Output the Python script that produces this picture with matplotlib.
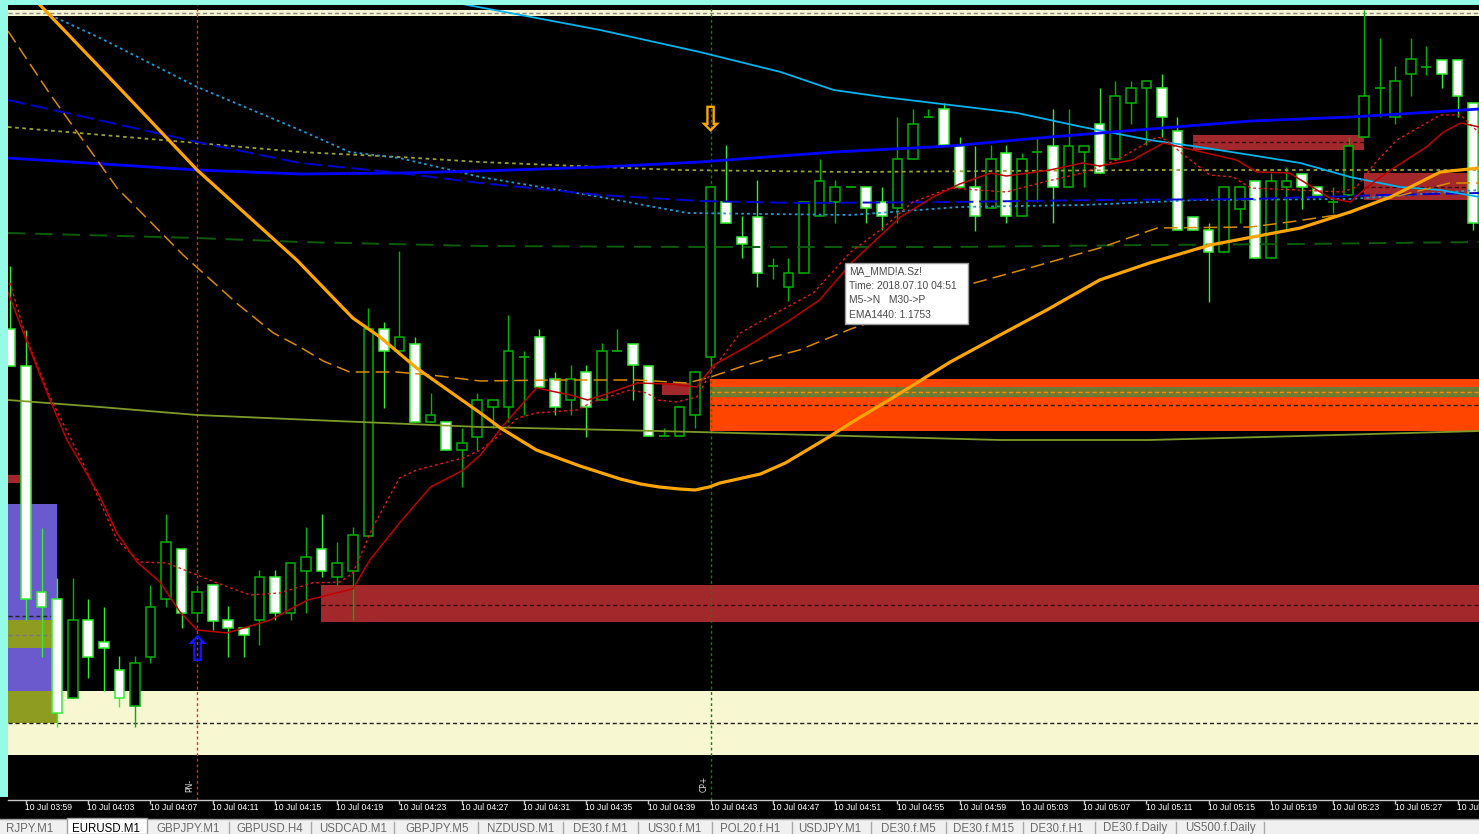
import matplotlib
matplotlib.use('Agg')
import matplotlib.pyplot as plt
from matplotlib.patches import Rectangle
import matplotlib.transforms as mtransforms
from matplotlib import font_manager

# ---------------- data ----------------
candle_idx = list(range(-1, 94))   # minute index, 0 = 10 Jul 03:59
opens = [1.17671, 1.17634, 1.17408, 1.17401, 1.17302, 1.17380, 1.17358, 1.17330, 1.17294, 1.17343,
         1.17401, 1.17451, 1.17387, 1.17415, 1.17380, 1.17372, 1.17380, 1.17423, 1.17387, 1.17429,
         1.17451, 1.17423, 1.17429, 1.17464, 1.17671, 1.17649, 1.17656, 1.17578, 1.17578, 1.17550,
         1.17563, 1.17593, 1.17593, 1.17643, 1.17663, 1.17621, 1.17600, 1.17628, 1.17600, 1.17649,
         1.17656, 1.17634, 1.17564, 1.17564, 1.17585, 1.17643, 1.17798, 1.17763, 1.17783, 1.17734,
         1.17713, 1.17727, 1.17784, 1.17798, 1.17813, 1.17813, 1.17798, 1.17792, 1.17841, 1.17883,
         1.17891, 1.17854, 1.17813, 1.17792, 1.17847, 1.17784, 1.17848, 1.17854, 1.17813, 1.17848,
         1.17876, 1.17841, 1.17897, 1.17912, 1.17912, 1.17869, 1.17783, 1.17770, 1.17748, 1.17791,
         1.17819, 1.17742, 1.17813, 1.17826, 1.17813, 1.17798, 1.17805, 1.17863, 1.17912, 1.17883,
         1.17926, 1.17933, 1.17940, 1.17940, 1.17897]
highs = [1.17734, 1.17670, 1.17472, 1.17422, 1.17422, 1.17401, 1.17393, 1.17344, 1.17344, 1.17415,
         1.17486, 1.17451, 1.17415, 1.17415, 1.17394, 1.17372, 1.17430, 1.17430, 1.17437, 1.17473,
         1.17486, 1.17458, 1.17473, 1.17692, 1.17678, 1.17749, 1.17663, 1.17607, 1.17578, 1.17572,
         1.17607, 1.17600, 1.17685, 1.17649, 1.17671, 1.17628, 1.17635, 1.17635, 1.17657, 1.17671,
         1.17656, 1.17634, 1.17572, 1.17593, 1.17628, 1.17813, 1.17855, 1.17784, 1.17820, 1.17742,
         1.17742, 1.17798, 1.17841, 1.17820, 1.17813, 1.17813, 1.17813, 1.17883, 1.17891, 1.17891,
         1.17897, 1.17863, 1.17854, 1.17855, 1.17855, 1.17847, 1.17863, 1.17891, 1.17891, 1.17854,
         1.17912, 1.17919, 1.17919, 1.17919, 1.17926, 1.17883, 1.17783, 1.17777, 1.17813, 1.17813,
         1.17819, 1.17827, 1.17833, 1.17826, 1.17813, 1.17813, 1.17863, 1.17990, 1.17962, 1.17934,
         1.17962, 1.17954, 1.17940, 1.17940, 1.17897]
lows = [1.17634, 1.17380, 1.17343, 1.17273, 1.17302, 1.17322, 1.17309, 1.17293, 1.17273, 1.17337,
        1.17393, 1.17372, 1.17379, 1.17370, 1.17343, 1.17343, 1.17355, 1.17380, 1.17380, 1.17387,
        1.17423, 1.17415, 1.17380, 1.17464, 1.17592, 1.17649, 1.17578, 1.17578, 1.17550, 1.17513,
        1.17550, 1.17572, 1.17578, 1.17585, 1.17613, 1.17585, 1.17585, 1.17563, 1.17600, 1.17649,
        1.17600, 1.17564, 1.17564, 1.17564, 1.17572, 1.17633, 1.17777, 1.17742, 1.17713, 1.17721,
        1.17699, 1.17727, 1.17784, 1.17777, 1.17813, 1.17777, 1.17770, 1.17777, 1.17841, 1.17883,
        1.17855, 1.17813, 1.17769, 1.17792, 1.17777, 1.17784, 1.17798, 1.17777, 1.17813, 1.17813,
        1.17827, 1.17841, 1.17876, 1.17855, 1.17863, 1.17770, 1.17770, 1.17698, 1.17748, 1.17777,
        1.17742, 1.17742, 1.17770, 1.17791, 1.17805, 1.17787, 1.17805, 1.17863, 1.17883, 1.17876,
        1.17904, 1.17925, 1.17912, 1.17883, 1.17770]
closes = [1.17634, 1.17401, 1.17393, 1.17287, 1.17380, 1.17343, 1.17352, 1.17302, 1.17337, 1.17393,
          1.17458, 1.17387, 1.17408, 1.17379, 1.17372, 1.17365, 1.17423, 1.17387, 1.17437, 1.17443,
          1.17429, 1.17437, 1.17465, 1.17671, 1.17649, 1.17663, 1.17578, 1.17585, 1.17550, 1.17557,
          1.17600, 1.17600, 1.17649, 1.17643, 1.17613, 1.17593, 1.17621, 1.17593, 1.17649, 1.17649,
          1.17635, 1.17564, 1.17564, 1.17593, 1.17628, 1.17813, 1.17777, 1.17756, 1.17727, 1.17734,
          1.17727, 1.17798, 1.17819, 1.17813, 1.17813, 1.17792, 1.17784, 1.17841, 1.17876, 1.17883,
          1.17855, 1.17813, 1.17784, 1.17841, 1.17784, 1.17841, 1.17848, 1.17813, 1.17854, 1.17854,
          1.17827, 1.17904, 1.17912, 1.17919, 1.17883, 1.17770, 1.17770, 1.17748, 1.17813, 1.17813,
          1.17742, 1.17819, 1.17819, 1.17813, 1.17805, 1.17798, 1.17854, 1.17904, 1.17912, 1.17919,
          1.17941, 1.17933, 1.17926, 1.17904, 1.17777]

tick_idx = list(range(0, 93, 4))
tick_labels = ["10 Jul 03:59", "10 Jul 04:03", "10 Jul 04:07", "10 Jul 04:11", "10 Jul 04:15",
               "10 Jul 04:19", "10 Jul 04:23", "10 Jul 04:27", "10 Jul 04:31", "10 Jul 04:35",
               "10 Jul 04:39", "10 Jul 04:43", "10 Jul 04:47", "10 Jul 04:51", "10 Jul 04:55",
               "10 Jul 04:59", "10 Jul 05:03", "10 Jul 05:07", "10 Jul 05:11", "10 Jul 05:15",
               "10 Jul 05:19", "10 Jul 05:23", "10 Jul 05:27", "10 Jul 05:31"]

# moving averages (index, price)
ema_slow_x = [0.9, 6.0, 11.0, 17.4, 21.0, 22.75, 25.1, 27.1, 29.2, 30.5, 32.8, 35.6, 38.2, 39.5, 40.7,
              42.0, 43.0, 43.9, 44.6, 47.2, 48.8, 50.2, 51.6, 53.0, 56.2, 59.4, 62.6, 65.6, 69.0, 72.2,
              76.1, 81.9, 85.1, 87.7, 90.9, 93.4]
ema_slow_y = [1.17995, 1.17912, 1.17830, 1.17740, 1.17682, 1.17663, 1.17632, 1.17610, 1.17587, 1.17572,
              1.17550, 1.17534, 1.17521, 1.17516, 1.17513, 1.17511, 1.17510, 1.17513, 1.17517, 1.17526,
              1.17537, 1.17550, 1.17563, 1.17577, 1.17607, 1.17638, 1.17665, 1.17690, 1.17720, 1.17737,
              1.17755, 1.17772, 1.17788, 1.17803, 1.17828, 1.17832]
ma_orange_x = [-1.16, 1.54, 5.85, 10.1, 13.6, 15.9, 17.6, 19.1, 20.8, 23.8, 26.0, 29.2, 33.9, 39.3, 42.5,
               44.0, 45.9, 48.0, 49.7, 53.0, 56.2, 60.7, 64.7, 69.0, 72.7, 78.7, 81.2, 85.1, 87.2, 91.5, 93.4]
ma_orange_y = [1.17969, 1.17906, 1.17812, 1.17745, 1.17696, 1.17667, 1.17653, 1.17639, 1.17628, 1.17628,
               1.17625, 1.17619, 1.17620, 1.17620, 1.17617, 1.17623, 1.17633, 1.17643, 1.17650, 1.17671,
               1.17688, 1.17716, 1.17733, 1.17752, 1.17772, 1.17773, 1.17778, 1.17787, 1.17800, 1.17817, 1.17817]
ma_cyan_x = [26.0, 36.9, 43.3, 48.5, 51.9, 55.1, 59.4, 63.7, 67.9, 72.2, 75.4, 78.7, 81.9, 85.1, 88.3, 90.9, 93.4]
ma_cyan_y = [1.18002, 1.17970, 1.17948, 1.17928, 1.17910, 1.17903, 1.17895, 1.17887, 1.17873, 1.17860,
             1.17853, 1.17845, 1.17837, 1.17823, 1.17813, 1.17810, 1.17803]
ma_blue_x = [-1.16, 11.0, 17.6, 24.0, 29.2, 36.9, 43.3, 51.9, 59.4, 65.8, 72.2, 78.7, 85.1, 88.3, 93.4]
ma_blue_y = [1.17842, 1.17830, 1.17826, 1.17827, 1.17829, 1.17833, 1.17838, 1.17848, 1.17854, 1.17863,
             1.17871, 1.17879, 1.17883, 1.17886, 1.17891]
ma_navy_x = [-1.16, 11.0, 17.6, 24.0, 29.2, 36.9, 43.3, 49.7, 59.4, 69.0, 78.7, 87.2, 93.4]
ma_navy_y = [1.17900, 1.17858, 1.17837, 1.17827, 1.17817, 1.17805, 1.17799, 1.17797, 1.17798, 1.17800,
             1.17801, 1.17805, 1.17807]
ma_skydot_x = [1.54, 4.76, 11.0, 17.6, 20.8, 24.0, 29.2, 36.9, 42.5, 53.0, 60.0, 67.9, 75.4, 85.1, 93.4]
ma_skydot_y = [1.17985, 1.17962, 1.17913, 1.17870, 1.17848, 1.17842, 1.17823, 1.17803, 1.17787, 1.17785,
               1.17793, 1.17795, 1.17800, 1.17801, 1.17810]
ma_olive_x = [-1.16, 11.0, 17.6, 24.0, 29.2, 36.9, 42.0, 53.0, 72.2, 93.4]
ma_olive_y = [1.17873, 1.17857, 1.17848, 1.17843, 1.17838, 1.17833, 1.17830, 1.17828, 1.17830, 1.17830]
ma_green_x = [-1.16, 11.0, 17.6, 29.2, 43.3, 59.4, 72.2, 81.9, 93.4]
ma_green_y = [1.17767, 1.17762, 1.17758, 1.17754, 1.17753, 1.17753, 1.17755, 1.17756, 1.17758]
ma_lime_x = [-1.16, 4.76, 11.0, 18.4, 29.2, 40.6, 50.6, 62.6, 72.2, 81.9, 93.4]
ma_lime_y = [1.17600, 1.17593, 1.17585, 1.17580, 1.17573, 1.17569, 1.17565, 1.17560, 1.17560, 1.17564, 1.17569]
ma_red_x = [-1.16, -0.06, 1.54, 2.63, 3.66, 4.76, 5.85, 7.13, 8.61, 9.90, 11.0, 12.9, 15.7, 18.1, 21.0,
            22.1, 24.0, 26.0, 28.1, 29.2, 30.7, 32.8, 35.0, 36.1, 37.1, 39.3, 41.4, 43.1, 44.2, 46.5,
            48.9, 51.0, 53.1, 56.2, 58.3, 60.0, 62.0, 63.0, 65.8, 67.9, 69.0, 71.1, 73.1, 75.0, 77.8,
            79.1, 81.2, 83.8, 85.1, 86.2, 87.7, 90.0, 91.1, 92.2, 93.4]
ma_red_y = [1.17708, 1.17663, 1.17600, 1.17560, 1.17533, 1.17503, 1.17467, 1.17438, 1.17418, 1.17388,
            1.17370, 1.17367, 1.17380, 1.17400, 1.17411, 1.17440, 1.17477, 1.17513, 1.17530, 1.17545,
            1.17575, 1.17612, 1.17605, 1.17600, 1.17605, 1.17617, 1.17616, 1.17613, 1.17635, 1.17655,
            1.17678, 1.17700, 1.17738, 1.17783, 1.17803, 1.17816, 1.17827, 1.17824, 1.17830, 1.17837,
            1.17834, 1.17840, 1.17857, 1.17850, 1.17840, 1.17828, 1.17827, 1.17802, 1.17798, 1.17813,
            1.17830, 1.17853, 1.17868, 1.17877, 1.17873]
ma_reddot_x = [-1.03, 0.06, 1.54, 3.66, 5.85, 7.33, 9.06, 10.5, 12.3, 14.4, 16.3, 18.4, 20.2, 21.0, 22.3,
               24.0, 25.1, 28.1, 29.2, 30.3, 31.6, 32.8, 35.4, 36.4, 38.8, 39.9, 40.6, 41.8, 43.1, 44.2,
               45.9, 47.6, 50.6, 53.0, 54.9, 57.0, 59.4, 63.0, 65.4, 67.9, 70.1, 72.7, 73.3, 74.4, 76.1,
               77.6, 78.7, 84.6, 85.5, 86.6, 88.1, 90.9, 92.2, 93.4]
ma_reddot_y = [1.17717, 1.17660, 1.17603, 1.17537, 1.17460, 1.17438, 1.17437, 1.17428, 1.17417, 1.17405,
               1.17407, 1.17417, 1.17418, 1.17427, 1.17473, 1.17522, 1.17530, 1.17542, 1.17550, 1.17563,
               1.17582, 1.17587, 1.17590, 1.17598, 1.17610, 1.17607, 1.17600, 1.17598, 1.17603, 1.17632,
               1.17667, 1.17682, 1.17707, 1.17748, 1.17770, 1.17798, 1.17812, 1.17808, 1.17818, 1.17827,
               1.17840, 1.17863, 1.17860, 1.17845, 1.17825, 1.17823, 1.17812, 1.17808, 1.17813, 1.17835,
               1.17860, 1.17885, 1.17885, 1.17867]

# zones: x from/to (index), price low/high, fill colour
zone_x0 = [-1.16, -1.16, -1.16, -1.16, -1.16, -1.16, 1.99, -1.16, 18.96, 40.9, 43.96, 43.96, 75.0, 86.0]
zone_x1 = [93.4, 1.99, 1.99, 1.99, 1.99, -0.4, 93.4, 93.4, 93.4, 43.3, 93.4, 93.4, 86.0, 93.4]
zone_lo = [1.17984, 1.17380, 1.17352, 1.17309, 1.17277, 1.17517, 1.17245, 1.17245, 1.17378, 1.17605,
           1.17569, 1.17603, 1.17850, 1.17800]
zone_hi = [1.17990, 1.17496, 1.17380, 1.17352, 1.17309, 1.17525, 1.17309, 1.17277, 1.17415, 1.17617,
           1.17621, 1.17613, 1.17865, 1.17827]
zone_col = ['#F5F5D2', '#6A5ACD', '#8E9C22', '#6A5ACD', '#8E9C22', '#A0282A', '#F7F7D2', '#F7F7D2',
            '#A3282B', '#A0282A', '#FF4500', '#6E7A30', '#A3282B', '#A3282B']
# dashed level lines inside zones
level_x0 = [-1.16, -1.16, -1.16, -1.16, 18.96, 43.96, 43.96, 75.0, 86.0]
level_x1 = [93.4, 1.99, 1.99, 93.4, 93.4, 93.4, 93.4, 86.0, 93.4]
level_y = [1.17987, 1.17384, 1.17365, 1.17277, 1.17395, 1.17608, 1.17595, 1.17858, 1.17813]
level_col = ['#888888', '#222222', '#777777', '#222222', '#3A0A0A', '#FF8C00', '#222222', '#3A0A0A', '#3A0A0A']

vline_idx = [11, 44]
tab_names = ["RJPY.M1", "EURUSD.M1", "GBPJPY.M1", "GBPUSD.H4", "USDCAD.M1", "GBPJPY.M5", "NZDUSD.M1",
             "DE30.f.M1", "US30.f.M1", "POL20.f.H1", "USDJPY.M1", "DE30.f.M5", "DE30.f.M15", "DE30.f.H1",
             "DE30.f.Daily", "US500.f.Daily"]
tooltip_lines = ["MA_MMD!A.Sz!", "Time: 2018.07.10 04:51", "M5->N   M30->P", "EMA1440: 1.1753"]

# ---------------- figure ----------------
W, H = 1479, 834
fig = plt.figure(figsize=(W / 100, H / 100), dpi=100, facecolor='black')


def fx(x):
    return x / W


def fy(y):
    return 1 - y / H


names = {f.name for f in font_manager.fontManager.ttflist}
if 'Liberation Sans Narrow' in names:
    axis_font, axis_fs = 'Liberation Sans Narrow', 7.2
else:
    axis_font, axis_fs = 'Liberation Sans', 6.2

ax = fig.add_axes([fx(8), fy(800), fx(1479) - fx(8), fy(5) - fy(800)])
ax.set_facecolor('black')
ax.set_xlim(-1.157, 93.38)
ax.set_ylim(1.17200, 1.17995)

# zones
for x0, x1, lo, hi, c in zip(zone_x0, zone_x1, zone_lo, zone_hi, zone_col):
    ax.add_patch(Rectangle((x0, lo), x1 - x0, hi - lo, facecolor=c, edgecolor='none', zorder=1))
for x0, x1, y, c in zip(level_x0, level_x1, level_y, level_col):
    ax.plot([x0, x1], [y, y], color=c, lw=1, ls=(0, (3, 2)), zorder=1.5)

# vertical lines
ax.axvline(vline_idx[0], color='#D83030', lw=1, ls=(0, (2, 2)), zorder=2)
ax.axvline(vline_idx[1], color='#108010', lw=1, ls=(0, (2, 2)), zorder=2)

# candles
for i, o, h, l, c in zip(candle_idx, opens, highs, lows, closes):
    bull = c >= o
    ec = '#00B400' if bull else '#33EE33'
    ax.vlines(i, l, h, color=ec, lw=1, zorder=3)
    if abs(c - o) < 1e-9:
        ax.hlines(o, i - 0.32, i + 0.32, color=ec, lw=1.2, zorder=4)
    else:
        ax.add_patch(Rectangle((i - 0.31, min(o, c)), 0.62, abs(c - o),
                               facecolor='black' if bull else 'white', edgecolor=ec, lw=1.1, zorder=4))

# moving averages
ax.plot(ma_lime_x, ma_lime_y, color='#7E9A28', lw=1.3, zorder=5)
ax.plot(ma_green_x, ma_green_y, color='#0C5C0C', lw=1.4, ls=(0, (9, 5)), zorder=5)
ax.plot(ma_olive_x, ma_olive_y, color='#98A233', lw=1.3, ls=(0, (2, 2)), zorder=5)
ax.plot(ma_skydot_x, ma_skydot_y, color='#1E9AD8', lw=1.3, ls=(0, (1.5, 1.8)), zorder=5)
ax.plot(ma_navy_x, ma_navy_y, color='#0000D0', lw=1.4, ls=(0, (9, 3)), zorder=5)
ax.plot(ma_cyan_x, ma_cyan_y, color='#00B4F0', lw=1.3, zorder=5)
ax.plot(ma_blue_x, ma_blue_y, color='#0000FF', lw=2.0, zorder=5)
ax.plot(ma_orange_x, ma_orange_y, color='#D98A00', lw=1.1, ls=(0, (9, 4)), zorder=5)
ax.plot(ma_reddot_x, ma_reddot_y, color='#E81818', lw=1.0, ls=(0, (2, 2)), zorder=6)
ax.plot(ma_red_x, ma_red_y, color='#C00000', lw=1.1, zorder=6)
ax.plot(ema_slow_x, ema_slow_y, color='#FFA500', lw=2.3, zorder=6, solid_joinstyle='round')

# arrows
ax.text(vline_idx[0], 1.17349, '\u21e7', color='#1414FF', fontsize=25, fontweight='bold',
        ha='center', va='center', zorder=7)
ax.text(vline_idx[1], 1.17879, '\u21e9', color='#FFA500', fontsize=25, fontweight='bold',
        ha='center', va='center', zorder=7)
ax.text(vline_idx[0] - 0.45, 1.17208, 'PN-', rotation=90, fontsize=5.5, color='#E0E0E0',
        ha='center', va='bottom', zorder=7)
ax.text(vline_idx[1] - 0.45, 1.17208, 'CP+', rotation=90, fontsize=5.5, color='#E0E0E0',
        ha='center', va='bottom', zorder=7)

# axis
for s in ['top', 'left', 'right']:
    ax.spines[s].set_visible(False)
ax.spines['bottom'].set_color('#C8C8C8')
ax.spines['bottom'].set_linewidth(1)
ax.set_yticks([])
ax.set_xticks(tick_idx)
ax.set_xticklabels([''] * len(tick_idx))
ax.tick_params(axis='x', direction='out', length=3, color='#C8C8C8', width=1)
trans = mtransforms.blended_transform_factory(ax.transData, ax.transAxes)
for t, lbl in zip(tick_idx, tick_labels):
    ax.text(t - 0.05, -0.0095, lbl, transform=trans, ha='left', va='center', color='white',
            fontsize=axis_fs, family=axis_font, clip_on=False)

# cyan frame strips
fig.patches.append(Rectangle((0, fy(797)), fx(8), fy(0) - fy(797), transform=fig.transFigure,
                             facecolor='#94FBE6', edgecolor='none', zorder=2))
fig.patches.append(Rectangle((0, fy(5)), 1, fy(0) - fy(5), transform=fig.transFigure,
                             facecolor='#94FBE6', edgecolor='none', zorder=2))

# tooltip
fig.patches.append(Rectangle((fx(845), fy(324)), fx(968) - fx(845), fy(263) - fy(324),
                             transform=fig.transFigure, facecolor='white', edgecolor='#9A9A9A',
                             lw=1, zorder=10))
for k, line in enumerate(tooltip_lines):
    fig.text(fx(849), fy(271 + k * 14.7), line, color='#4A4A4A', fontsize=7.4, family='Liberation Sans',
             ha='left', va='center', zorder=11)

# tab bar
fig.patches.append(Rectangle((0, 0), 1, fy(819), transform=fig.transFigure,
                             facecolor='#F0F0F0', edgecolor='none', zorder=2))
fig.lines.append(plt.Line2D([0, 1], [fy(819), fy(819)], transform=fig.transFigure, color='#A0A0A0', lw=1, zorder=3))
fig.patches.append(Rectangle((fx(67), 0), fx(147) - fx(67), fy(818), transform=fig.transFigure,
                             facecolor='white', edgecolor='#A0A0A0', lw=1, zorder=3))
tab_centers = [30, 106, 188, 270, 353, 437, 521, 600, 674, 750, 830, 908, 984, 1057, 1135, 1220]
tab_seps = [229, 311, 394, 478, 563, 638, 712, 792, 871, 946, 1023, 1095, 1176, 1264]
for xc, name in zip(tab_centers, tab_names):
    active = name == "EURUSD.M1"
    fig.text(fx(xc), fy(828.5), name, color='#000000' if active else '#6A6A6A', fontsize=8.3,
             family='Liberation Sans', ha='center', va='center', zorder=4)
for xs in tab_seps:
    fig.lines.append(plt.Line2D([fx(xs), fx(xs)], [0, fy(822)], transform=fig.transFigure,
                                color='#A8A8A8', lw=1, zorder=3))

fig.savefig('out.png', dpi=100, facecolor='black')
